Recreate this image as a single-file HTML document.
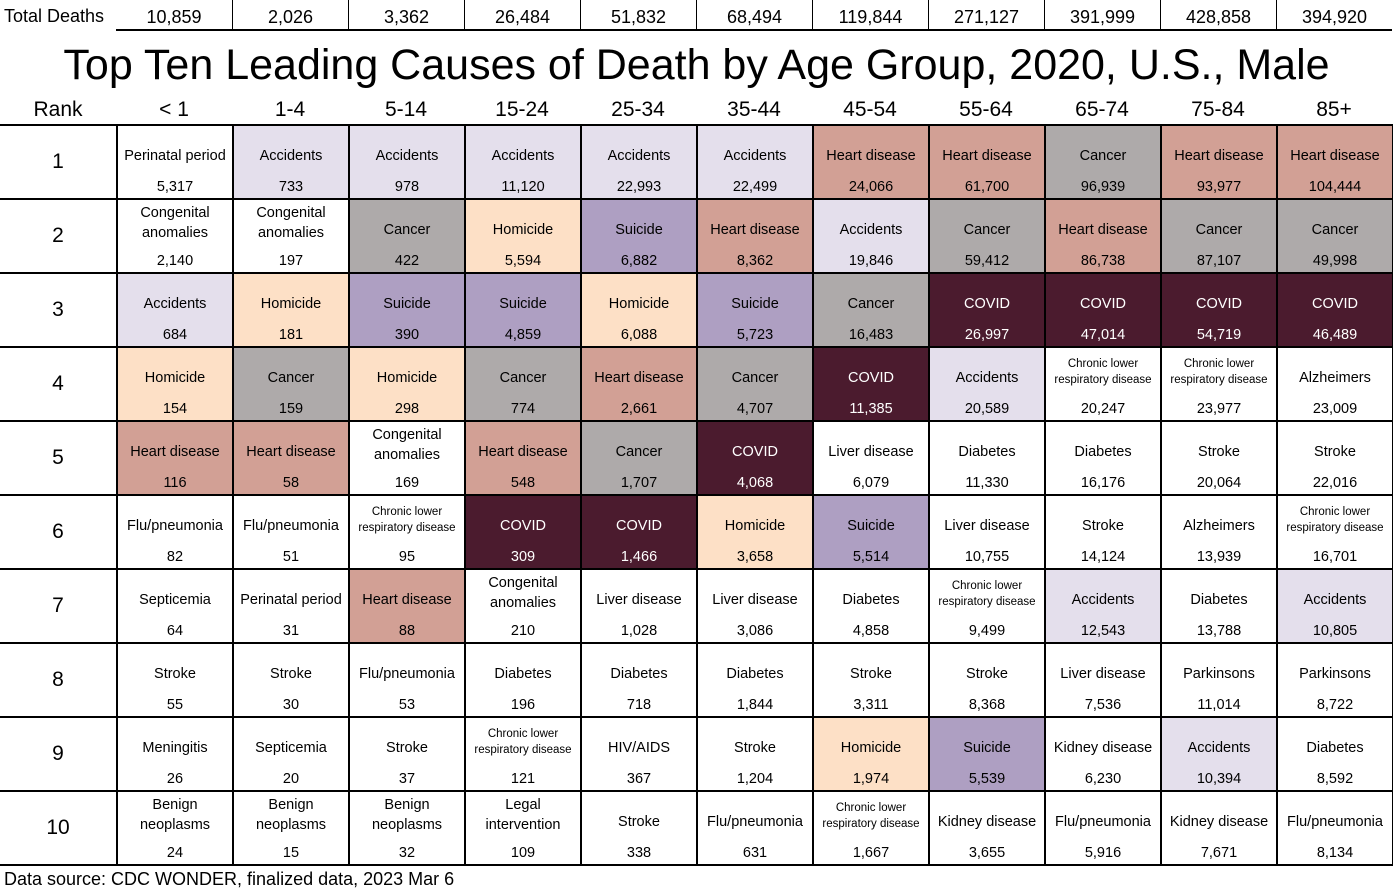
<!DOCTYPE html>
<html><head><meta charset="utf-8">
<style>
body{margin:0;width:1393px;height:894px;background:#fff;position:relative;overflow:hidden;font-family:"Liberation Sans",sans-serif;color:#000}
.a{position:absolute;white-space:nowrap}
.c{position:absolute;box-sizing:border-box}
.t{position:absolute;left:0;right:0;text-align:center;font-size:14.5px;line-height:16px;white-space:nowrap}
</style></head><body>
<div class="a" style="left:4px;top:6px;font-size:18px;width:112px;overflow:hidden">Total Deaths</div>
<div class="a" style="left:0;width:1393px;top:39px;text-align:center;font-size:43px;line-height:52px">Top Ten Leading Causes of Death by Age Group, 2020, U.S., Male</div>
<div class="a" style="left:0;width:116px;top:98px;text-align:center;font-size:21px">Rank</div>
<div class="a" style="left:4px;top:869px;font-size:18px">Data source: CDC WONDER, finalized data, 2023 Mar 6</div>
<div id="root"></div>
<script>
const ages=["< 1","1-4","5-14","15-24","25-34","35-44","45-54","55-64","65-74","75-84","85+"];
const totals=["10,859","2,026","3,362","26,484","51,832","68,494","119,844","271,127","391,999","428,858","394,920"];
const causes=[
["Perinatal period","Accidents","Accidents","Accidents","Accidents","Accidents","Heart disease","Heart disease","Cancer","Heart disease","Heart disease"],
["Congenital anomalies","Congenital anomalies","Cancer","Homicide","Suicide","Heart disease","Accidents","Cancer","Heart disease","Cancer","Cancer"],
["Accidents","Homicide","Suicide","Suicide","Homicide","Suicide","Cancer","COVID","COVID","COVID","COVID"],
["Homicide","Cancer","Homicide","Cancer","Heart disease","Cancer","COVID","Accidents","Chronic lower respiratory disease","Chronic lower respiratory disease","Alzheimers"],
["Heart disease","Heart disease","Congenital anomalies","Heart disease","Cancer","COVID","Liver disease","Diabetes","Diabetes","Stroke","Stroke"],
["Flu/pneumonia","Flu/pneumonia","Chronic lower respiratory disease","COVID","COVID","Homicide","Suicide","Liver disease","Stroke","Alzheimers","Chronic lower respiratory disease"],
["Septicemia","Perinatal period","Heart disease","Congenital anomalies","Liver disease","Liver disease","Diabetes","Chronic lower respiratory disease","Accidents","Diabetes","Accidents"],
["Stroke","Stroke","Flu/pneumonia","Diabetes","Diabetes","Diabetes","Stroke","Stroke","Liver disease","Parkinsons","Parkinsons"],
["Meningitis","Septicemia","Stroke","Chronic lower respiratory disease","HIV/AIDS","Stroke","Homicide","Suicide","Kidney disease","Accidents","Diabetes"],
["Benign neoplasms","Benign neoplasms","Benign neoplasms","Legal intervention","Stroke","Flu/pneumonia","Chronic lower respiratory disease","Kidney disease","Flu/pneumonia","Kidney disease","Flu/pneumonia"]];
const values=[
["5,317","733","978","11,120","22,993","22,499","24,066","61,700","96,939","93,977","104,444"],
["2,140","197","422","5,594","6,882","8,362","19,846","59,412","86,738","87,107","49,998"],
["684","181","390","4,859","6,088","5,723","16,483","26,997","47,014","54,719","46,489"],
["154","159","298","774","2,661","4,707","11,385","20,589","20,247","23,977","23,009"],
["116","58","169","548","1,707","4,068","6,079","11,330","16,176","20,064","22,016"],
["82","51","95","309","1,466","3,658","5,514","10,755","14,124","13,939","16,701"],
["64","31","88","210","1,028","3,086","4,858","9,499","12,543","13,788","10,805"],
["55","30","53","196","718","1,844","3,311","8,368","7,536","11,014","8,722"],
["26","20","37","121","367","1,204","1,974","5,539","6,230","10,394","8,592"],
["24","15","32","109","338","631","1,667","3,655","5,916","7,671","8,134"]];
const fills={"Accidents":"#e4dfec","Heart disease":"#d2a095","Cancer":"#aeaaaa","Homicide":"#fde0c6","Suicide":"#ae9fc2","COVID":"#4b1b2e"};
const root=document.getElementById('root');
const X0=116,CW=116,Y0=124,RH=74;
function div(cls,style,html){const d=document.createElement('div');d.className=cls;d.style.cssText=style;if(html!=null)d.textContent=html;root.appendChild(d);return d;}
totals.forEach((v,i)=>{
 const d=div('c',`left:${X0+i*CW}px;top:0;width:${CW}px;height:31px;border-bottom:2px solid #000;${i>0?'border-left:1px solid #000;':''}text-align:center;font-size:18px;line-height:34px`,v);
 
 
});
ages.forEach((a,i)=>{
 const d=div('a',`left:${X0+i*CW}px;top:98px;width:${CW}px;text-align:center;font-size:21px`,a);
 
 
});
for(let r=0;r<10;r++){
 const y=Y0+r*RH;
 const rk=div('a',`left:0;top:${y+1}px;width:${X0}px;height:${RH}px;line-height:${RH}px;text-align:center;font-size:21px`,String(r+1));
 
 
 for(let c=0;c<11;c++){
  const name=causes[r][c];
  const bg=fills[name]||'#fff';
  const col=name==='COVID'?'#fff':'#000';
  const cell=div('c',`left:${X0+c*CW}px;top:${y}px;width:${CW+2}px;height:${RH+2}px;border:2px solid #000;background:${bg};color:${col}`);
  
  
  let lab;
  if(name.startsWith('Chronic lower')){
   lab=document.createElement('div');lab.className='t';lab.style.cssText='top:8px;font-size:11.5px;line-height:16px';
   lab.innerHTML='Chronic lower<br>respiratory disease';
  } else if(name==='Congenital anomalies'||name==='Benign neoplasms'||name==='Legal intervention'){
   lab=document.createElement('div');lab.className='t';lab.style.cssText='top:3px;line-height:20px';
   lab.innerHTML=name.replace(' ','<br>');
  } else {
   lab=document.createElement('div');lab.className='t';lab.style.cssText='top:22px';lab.textContent=name;
  }
  
  
  cell.appendChild(lab);
  const val=document.createElement('div');val.className='t';val.style.cssText='top:53px';val.textContent=values[r][c];
  
  
  cell.appendChild(val);
 }
 const hl=div('c',`left:0;top:${y}px;width:${X0}px;height:2px;background:#000`);
 
 
}
const bl=div('c',`left:0;top:${Y0+10*RH}px;width:${X0}px;height:2px;background:#000`);


</script>
</body></html>
